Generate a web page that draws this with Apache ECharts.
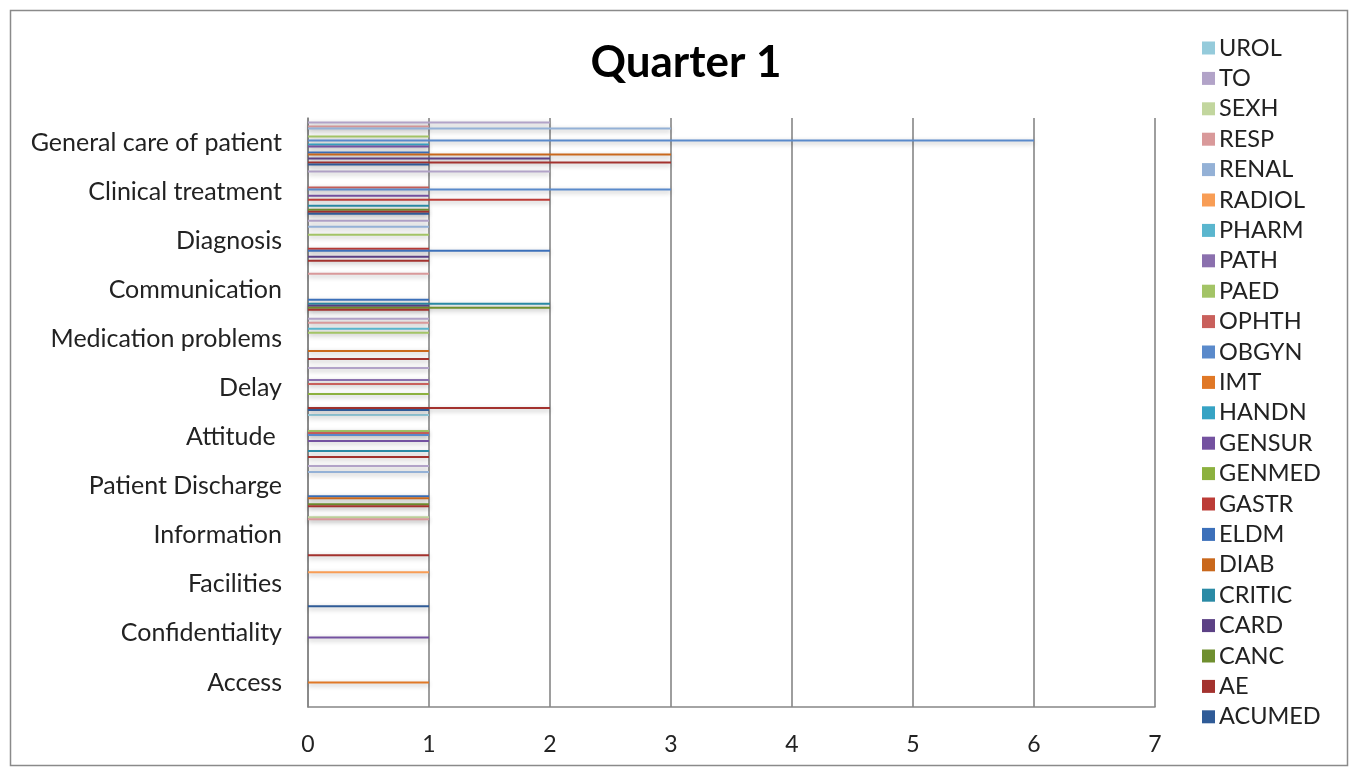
<!DOCTYPE html>
<html>
<head>
<meta charset="utf-8">
<script src="https://cdn.jsdelivr.net/npm/echarts@6/dist/echarts.min.js"></script>
<style>
  html, body { margin: 0; padding: 0; background: #fff; }
  #chart { width: 1358px; height: 774px; }
</style>
</head>
<body>
<div id="chart"></div>
<script>
// Complaint categories, bottom to top
const categories = ['Access', 'Confidentiality', 'Facilities', 'Information', 'Patient Discharge',
  'Attitude ', 'Delay', 'Medication problems', 'Communication', 'Diagnosis',
  'Clinical treatment', 'General care of patient'];

// Complaints per department, one value per category (same order as above)
const ACUMED = [0, 0, 1, 0, 0, 0, 1, 0, 0, 0, 1, 1];
const AE     = [0, 0, 0, 1, 1, 1, 2, 1, 1, 1, 1, 3];
const CANC   = [0, 0, 0, 0, 1, 0, 0, 0, 2, 0, 1, 0];
const CARD   = [0, 0, 0, 0, 0, 0, 0, 0, 1, 1, 0, 2];
const CRITIC = [0, 0, 0, 0, 0, 1, 0, 0, 2, 0, 1, 0];
const DIAB   = [0, 0, 0, 0, 1, 0, 0, 1, 0, 0, 0, 3];
const ELDM   = [0, 0, 0, 0, 1, 0, 0, 0, 1, 2, 0, 1];
const GASTR  = [0, 0, 0, 0, 0, 0, 0, 0, 0, 1, 2, 0];
const GENMED = [0, 0, 0, 0, 0, 0, 1, 0, 0, 0, 0, 0];
const GENSUR = [0, 1, 0, 0, 0, 1, 0, 0, 0, 0, 1, 1];
const HANDN  = [0, 0, 0, 0, 0, 0, 0, 0, 0, 0, 0, 1];
const IMT    = [1, 0, 0, 0, 0, 0, 0, 0, 0, 0, 0, 0];
const OBGYN  = [0, 0, 0, 0, 0, 1, 0, 0, 0, 0, 3, 6];
const OPHTH  = [0, 0, 0, 0, 0, 1, 1, 0, 0, 0, 1, 0];
const PAED   = [0, 0, 0, 0, 0, 1, 0, 1, 0, 1, 0, 1];
const PATH   = [0, 0, 0, 0, 0, 0, 1, 0, 0, 0, 0, 0];
const PHARM  = [0, 0, 0, 0, 0, 0, 0, 1, 0, 0, 0, 0];
const RADIOL = [0, 0, 1, 0, 0, 0, 0, 0, 0, 0, 0, 0];
const RENAL  = [0, 0, 0, 0, 1, 0, 0, 0, 0, 1, 0, 3];
const RESP   = [0, 0, 0, 1, 0, 0, 0, 1, 1, 0, 0, 1];
const SEXH   = [0, 0, 0, 1, 0, 0, 0, 0, 0, 0, 0, 0];
const TO     = [0, 0, 0, 0, 1, 0, 1, 1, 0, 1, 2, 2];
const UROL   = [0, 0, 0, 0, 0, 1, 0, 0, 0, 0, 0, 0];

const departments = ['ACUMED', 'AE', 'CANC', 'CARD', 'CRITIC', 'DIAB', 'ELDM', 'GASTR', 'GENMED',
  'GENSUR', 'HANDN', 'IMT', 'OBGYN', 'OPHTH', 'PAED', 'PATH', 'PHARM', 'RADIOL', 'RENAL',
  'RESP', 'SEXH', 'TO', 'UROL'];
const departmentValues = [ACUMED, AE, CANC, CARD, CRITIC, DIAB, ELDM, GASTR, GENMED, GENSUR,
  HANDN, IMT, OBGYN, OPHTH, PAED, PATH, PHARM, RADIOL, RENAL, RESP, SEXH, TO, UROL];

// x-axis ticks
const xTicks = [0, 1, 2, 3, 4, 5, 6, 7];

// Office-style palette: dark shades, mid shades, base accents, light tints
const palette = ['#2F5B97', '#A3322E', '#6F8F2F', '#5C4185', '#2A8AA5', '#C9681C',
  '#3C70BA', '#BC3C37', '#8CB13F', '#7452A0', '#36A3C4', '#E07826',
  '#5A8ACB', '#C9605C', '#A3C466', '#8B70AE', '#5AB6CE', '#F89D55',
  '#94B1D6', '#D9999A', '#C2D69E', '#B2A3C8', '#95CBDB'];

const FONT = 'Lato, "Liberation Sans", sans-serif';

// Series are added last-to-first so the first department sits at the bottom of each band
const series = [];
for (let i = departments.length - 1; i >= 0; i--) {
  series.push({
    name: departments[i],
    type: 'bar',
    data: departmentValues[i],
    barGap: '0%',
    barCategoryGap: '6%',
    itemStyle: {
      color: palette[i],
      shadowColor: 'rgba(0,0,0,0.3)',
      shadowBlur: 5,
      shadowOffsetY: 2
    }
  });
}

const chart = echarts.init(document.getElementById('chart'), null, { renderer: 'canvas' });
chart.setOption({
  animation: false,
  backgroundColor: '#ffffff',
  textStyle: { fontFamily: FONT },
  title: {
    text: 'Quarter 1',
    left: 681,
    top: 32,
    textAlign: 'center',
    textStyle: { fontFamily: FONT, fontSize: 44, fontWeight: 'bold', color: '#000', lineHeight: 52 }
  },
  legend: {
    orient: 'vertical',
    left: 1197,
    top: 31,
    data: departments.slice().reverse(),
    icon: 'rect',
    itemWidth: 13,
    itemHeight: 13,
    itemGap: 6.4,
    textStyle: { fontFamily: FONT, fontSize: 23.5, color: '#222', lineHeight: 24, padding: [0, 0, 0, -1] },
    selectedMode: false
  },
  grid: { left: 308, right: 203, top: 118, bottom: 67, containLabel: false },
  xAxis: {
    type: 'value',
    min: xTicks[0],
    max: xTicks[xTicks.length - 1],
    interval: 1,
    axisLine: { show: true, lineStyle: { color: '#868686', width: 1.6 } },
    axisTick: { show: false },
    axisLabel: { fontFamily: FONT, fontSize: 23, color: '#222', margin: 26 },
    splitLine: { show: true, lineStyle: { color: '#868686', width: 1.6 } }
  },
  yAxis: {
    type: 'category',
    data: categories,
    axisLine: { show: true, lineStyle: { color: '#868686', width: 1.6 } },
    axisTick: { show: false },
    axisLabel: { fontFamily: FONT, fontSize: 25, color: '#222', margin: 26 }
  },
  graphic: [{
    type: 'rect',
    shape: { x: 10.5, y: 10.5, width: 1337, height: 755 },
    style: { fill: 'none', stroke: '#8a8a8a', lineWidth: 1.5 },
    silent: true
  }],
  series: series
});
</script>
</body>
</html>
